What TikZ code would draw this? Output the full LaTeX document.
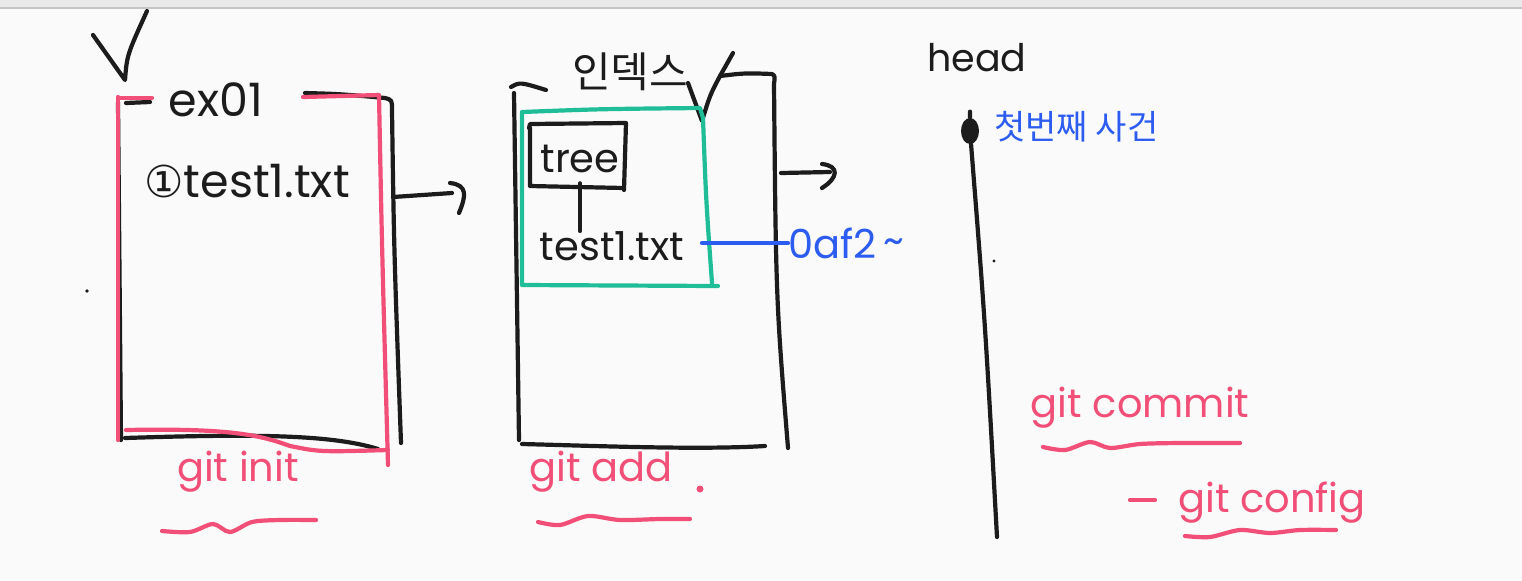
\documentclass[tikz,border=0pt]{standalone}
\usepackage{fontspec}
\usetikzlibrary{shapes.geometric}
\setmainfont{Poppins}
\newfontfamily\krfont{Noto Sans CJK KR}
\newfontfamily\djfont{DejaVu Sans}
\definecolor{ink}{HTML}{1C1C1C}
\definecolor{pinkink}{HTML}{F24F78}
\definecolor{greenink}{HTML}{1FBE98}
\definecolor{blueink}{HTML}{2D5CF0}
\definecolor{paper}{HTML}{FAFAFA}
\definecolor{topbar}{HTML}{E9E9E9}
\definecolor{topline}{HTML}{C4C4C4}
\begin{document}
\begin{tikzpicture}[x=0.5pt,y=-0.5pt,
  pen/.style={line width=2.1pt, line cap=round, line join=round},
  blackpen/.style={pen, draw=ink},
  pinkpen/.style={pen, draw=pinkink},
  greenpen/.style={pen, draw=greenink},
  bluepen/.style={pen, draw=blueink},
  hand/.style={inner sep=0pt, font=\fontsize{20}{22}\selectfont},
  bighand/.style={inner sep=0pt, font=\fontsize{23}{25}\selectfont},
  pinktext/.style={hand, text=pinkink},
  bluetext/.style={hand, text=blueink},
  blacktext/.style={hand, text=ink}]
\useasboundingbox (0,0) rectangle (1522,580);
\fill[paper] (0,0) rectangle (1522,580);
\fill[topbar] (0,0) rectangle (1522,8);
\draw[topline, line width=0.6pt] (0,8) -- (1522,8);

% ---------- working directory (ex01) ----------
\draw[blackpen] (93,35) -- (125,80) .. controls (127,55) .. (147,11);
\node[bighand, text=ink] (ex) at (216,100) {ex01};
% black box
\draw[blackpen] (118,102) -- (121,440);
\draw[blackpen] (126,103) -- (150,102);
\draw[blackpen] (305,93) .. controls (340,94) .. (385,98) .. controls (392,100) .. (392,110) .. controls (394,250) .. (401,443);
\draw[blackpen] (125,438) .. controls (250,434) and (330,434) .. (378,449);
% pink box
\draw[pinkpen] (118,97) -- (118,440);
\draw[pinkpen] (118,98) -- (152,98);
\draw[pinkpen] (303,97) -- (379,95) .. controls (382,250) .. (388,465);
\draw[pinkpen] (126,430) .. controls (230,428) and (260,435) .. (290,446) .. controls (320,452) .. (388,450);
\node[bighand, text=ink, anchor=west] (file1) at (144,181) {{\djfont\fontsize{22}{24}\selectfont ①}test1.txt};
% arrow to index
\coordinate (a1s) at (393,197);
\coordinate (a1e) at (452,193);
\draw[blackpen] (a1s) -- (a1e);
\draw[blackpen] (450,183) .. controls (468,185) and (466,196) .. (459,213);
\node[pinktext] (init) at (238,472) {git init};
\draw[pinkpen] plot[smooth] coordinates {(162,531) (190,532) (213,524) (230,532) (252,522) (280,520) (316,520)};

% ---------- index ----------
\node[hand, text=ink, font=\krfont\fontsize{21}{23}\selectfont] (idx) at (630,72) {인덱스};
\draw[blackpen] (514,93) -- (519,440);
\draw[blackpen] (511,87) .. controls (520,82) .. (546,90);
\draw[blackpen] (688,83) -- (702,121) .. controls (710,95) .. (720,76) -- (733,53);
\draw[blackpen] (720,76) .. controls (745,73) .. (772,74) .. controls (775,76) .. (774,84) .. controls (776,300) .. (788,448);
\draw[blackpen] (522,444) .. controls (600,446) and (700,450) .. (765,446);
% green box
\draw[greenpen] (522,113) -- (522,285) -- (718,286);
\draw[greenpen] (522,112) .. controls (600,109) .. (700,108) -- (703,118) .. controls (706,200) .. (712,283);
% tree box
\draw[blackpen] (529,128) -- (530,124) -- (626,123) -- (624,190);
\draw[blackpen] (530,128) -- (530,186) -- (624,188);
\node[blacktext] (tree) at (580,159) {tree};
\node[blacktext] (file2) at (612,246) {test1.txt};
\draw[blackpen] (tree.south) ++(0,10) coordinate (tb) (tb) -- (file2.north -| tb);
\node[bluetext, anchor=west] (hash) at (788,243) {0af2\,\raisebox{2pt}{\textasciitilde}};
\draw[bluepen] (702,243) coordinate (bs) -- (hash.west);
% arrow to repository
\coordinate (a2s) at (781,173);
\coordinate (a2e) at (830,172);
\draw[blackpen] (a2s) -- (a2e);
\draw[blackpen] (822,164) .. controls (840,166) and (838,178) .. (822,188);
\node[pinktext] (add) at (601,472) {git add};
\node[circle, fill=pinkink, inner sep=0pt, minimum size=3.5pt] (dot) at (700,489) {};
\draw[pinkpen] plot[smooth] coordinates {(538,522) (560,525) (588,516) (620,520) (660,519) (690,519)};

% ---------- repository / head ----------
\node[blacktext, font=\fontsize{19}{21}\selectfont] (head) at (977,58) {head};
\node[ellipse, fill=ink, inner sep=0pt, minimum width=9pt, minimum height=13pt] (c1) at (970,131) {};
\coordinate (tl) at (997,537);
\draw[blackpen] (c1.north) ++(0,-6) coordinate (tt) (tt) -- (c1) .. controls (985,320) .. (tl);
\node[bluetext, font=\krfont\fontsize{17}{19}\selectfont, anchor=west] (ev) at (994,127) {첫번째 사건};
\node[pinktext] (commit) at (1140,408) {git commit};
\draw[pinkpen] plot[smooth] coordinates {(1043,447) (1065,450) (1090,442) (1110,448) (1140,444) (1180,443) (1240,443)};
\coordinate (ds) at (1130,500);
\coordinate (de) at (1155,500);
\draw[pinkpen] (ds) -- (de);
\node[pinktext] (config) at (1272,503) {git config};
\draw[pinkpen] plot[smooth] coordinates {(1185,536) (1210,537) (1240,530) (1270,533) (1300,530) (1336,530)};

% stray specks
\fill[ink] (87,291) circle (0.9pt);
\fill[ink] (994,261) circle (0.8pt);
\end{tikzpicture}
\end{document}
